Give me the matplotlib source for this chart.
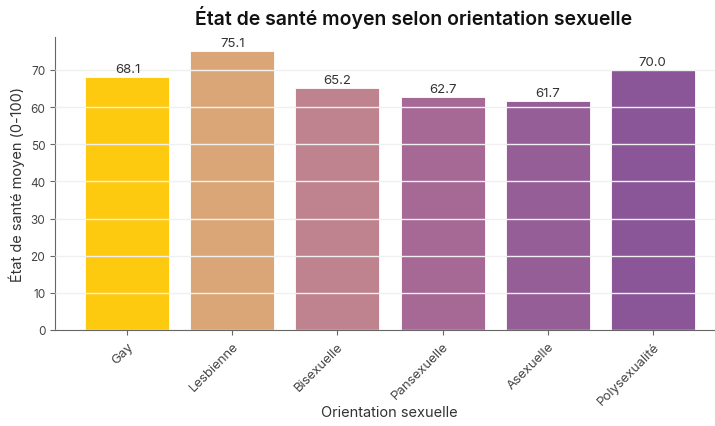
import matplotlib.pyplot as plt

categories = ["Gay", "Lesbienne", "Bisexuelle", "Pansexuelle", "Asexuelle", "Polysexualité"]
values = [68.1, 75.1, 65.2, 62.7, 61.7, 70.0]
colors = ["#FECA10", "#DBA677", "#BE838F", "#A66894", "#955E97", "#8A5698"]

plt.rcParams["font.family"] = ["Inter", "DejaVu Sans"]

fig = plt.figure(figsize=(7.15, 4.27), dpi=100)
ax = fig.add_axes([55 / 715, 1 - 331 / 427, 670 / 715, 293 / 427])

x = range(len(categories))
bars = ax.bar(x, values, width=0.8, color=colors, edgecolor="white", linewidth=0.6, zorder=2)
ax.grid(axis="y", color="#f0f0f0", linewidth=1.0, zorder=3)
ax.set_axisbelow(False)

for b, v in zip(bars, values):
    ax.text(b.get_x() + b.get_width() / 2, v + 0.5, f"{v:.1f}", ha="center", va="bottom",
            fontsize=9.5, color="#333333", zorder=4)

ax.set_ylim(0, max(values) * 1.05)
ax.set_yticks(range(0, 80, 10))
ax.set_xticks(list(x))
ax.set_xticklabels(categories, rotation=45, ha="right", rotation_mode="anchor", fontsize=9.5, color="#444444")
ax.tick_params(axis="y", labelsize=8.5, labelcolor="#444444", color="#666666")
ax.tick_params(axis="x", color="#666666")
for s in ["top", "right"]:
    ax.spines[s].set_visible(False)
for s in ["left", "bottom"]:
    ax.spines[s].set_color("#666666")

ax.set_ylabel("État de santé moyen (0-100)", fontsize=10.5, color="#333333")
fig.text(389 / 715, 1 - 413 / 427, "Orientation sexuelle", fontsize=10.5, color="#333333",
         ha="center", va="center")
fig.suptitle("État de santé moyen selon orientation sexuelle", fontsize=14, fontweight="semibold",
             y=1 - 18 / 427, va="center", x=414 / 715, color="#111111")

fig.savefig("out.png", dpi=100)
